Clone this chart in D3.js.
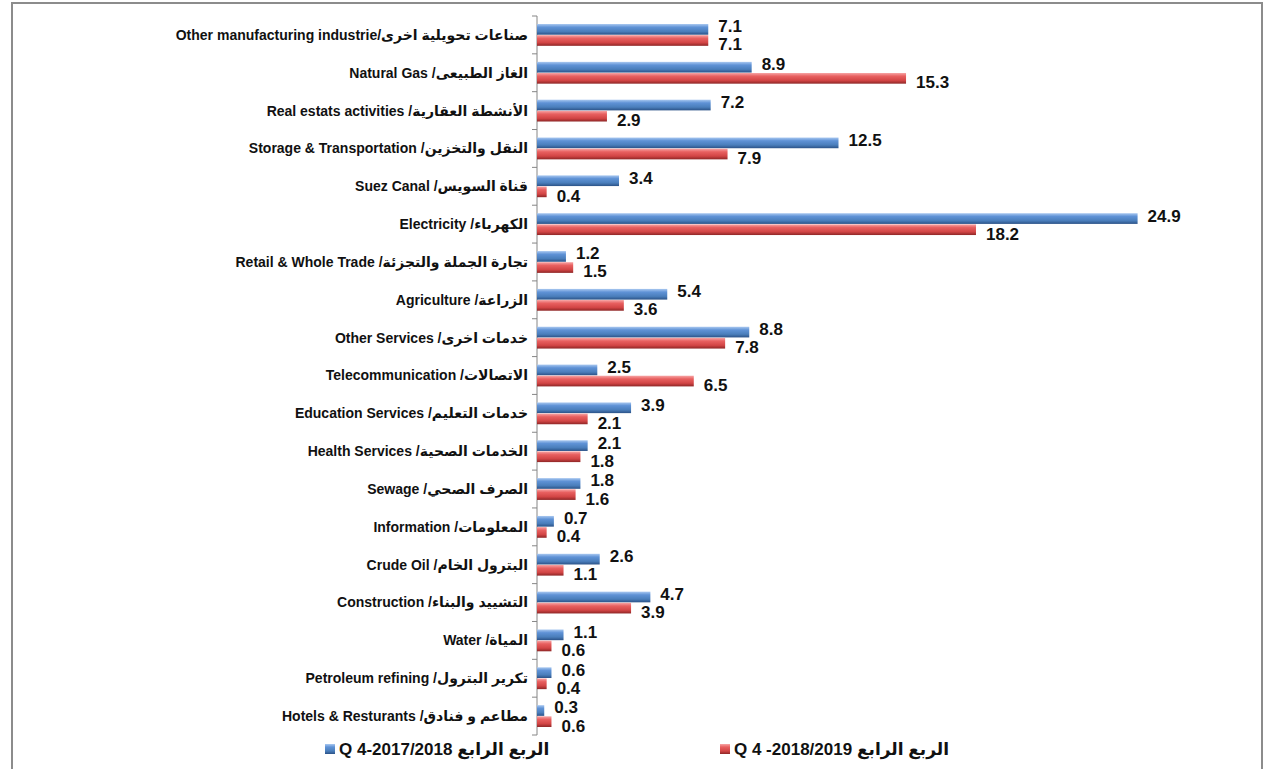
<!DOCTYPE html>
<html>
<head>
<meta charset="utf-8">
<script src="https://cdn.jsdelivr.net/npm/d3@7"></script>
<style>
  body { margin: 0; background: #fff; }
  text { font-family: "Liberation Sans", "DejaVu Sans", sans-serif; font-weight: bold; fill: #111; }
</style>
</head>
<body>
<div id="chart"></div>
<script>
var categories = [
  "صناعات تحويلية اخرى/Other manufacturing industrie",
  "الغاز الطبيعى/ Natural Gas",
  "الأنشطة العقارية/ Real estats activities",
  "النقل والتخزين/ Storage & Transportation",
  "قناة السويس/ Suez Canal",
  "الكهرباء/ Electricity",
  "تجارة الجملة والتجزئة/ Retail & Whole Trade",
  "الزراعة/ Agriculture",
  "خدمات اخرى/ Other Services",
  "الاتصالات/ Telecommunication",
  "خدمات التعليم/ Education Services",
  "الخدمات الصحية/ Health Services",
  "الصرف الصحي/ Sewage",
  "المعلومات/ Information",
  "البترول الخام/ Crude Oil",
  "التشييد والبناء/ Construction",
  "المياة/ Water",
  "تكرير البترول/ Petroleum refining",
  "مطاعم و فنادق/ Hotels & Resturants"
];
var q4_2017_18 = [7.1, 8.9, 7.2, 12.5, 3.4, 24.9, 1.2, 5.4, 8.8, 2.5, 3.9, 2.1, 1.8, 0.7, 2.6, 4.7, 1.1, 0.6, 0.3];
var q4_2018_19 = [7.1, 15.3, 2.9, 7.9, 0.4, 18.2, 1.5, 3.6, 7.8, 6.5, 2.1, 1.8, 1.6, 0.4, 1.1, 3.9, 0.6, 0.4, 0.6];
var seriesNames = ["الربع الرابع Q 4-2017/2018", "الربع الرابع Q 4 -2018/2019"];

var W = 1265, H = 769;
var svg = d3.select("#chart").append("svg").attr("width", W).attr("height", H);

// gradients for the bevelled bars
var defs = svg.append("defs");
function grad(id, stops) {
  var g = defs.append("linearGradient").attr("id", id)
    .attr("x1", 0).attr("y1", 0).attr("x2", 0).attr("y2", 1);
  stops.forEach(function(s) {
    g.append("stop").attr("offset", s[0]).attr("stop-color", s[1]);
  });
}
grad("gBlue", [[0, "#a9c8f0"], [0.3, "#5f92d6"], [0.7, "#4a7ebb"], [1, "#2b5287"]]);
grad("gRed", [[0, "#f7a5a5"], [0.3, "#e86060"], [0.7, "#d24545"], [1, "#8e2626"]]);

// outer frame
svg.append("path")
  .attr("d", "M12," + (H + 2) + "V3H1262V" + (H + 2))
  .attr("fill", "none").attr("stroke", "#8c8c8c").attr("stroke-width", 2);

var x = d3.scaleLinear().domain([0, 25]).range([537, 1140]);
var y = d3.scaleBand().domain(categories).range([16, 735]).paddingInner(0.4).paddingOuter(0.2);
var ys = d3.scaleBand().domain([0, 1]).range([0, y.bandwidth()]).padding(0.04);

// category axis
var axis = svg.append("g").attr("transform", "translate(" + x(0) + ",0)");
axis.append("line").attr("y1", 16).attr("y2", 735).attr("stroke", "#868686");
var bounds = categories.map(function(c) { return y(c) - y.step() * y.paddingInner() / 2; });
bounds.push(735);
axis.selectAll(".tk").data(bounds).enter().append("line")
  .attr("x1", -5).attr("x2", 0).attr("y1", d => d).attr("y2", d => d)
  .attr("stroke", "#868686");

svg.append("g").selectAll("text").data(categories).enter().append("text")
  .attr("x", x(0) - 9)
  .attr("y", d => y(d) + y.bandwidth() / 2)
  .attr("dy", "0.35em")
  .attr("text-anchor", "end")
  .style("font-size", "14px")
  .text(d => "\u202B" + d + "\u202C");

var series = [q4_2017_18, q4_2018_19];
var fills = ["url(#gBlue)", "url(#gRed)"];
var labelShift = [-3, 4];

series.forEach(function(vals, si) {
  var g = svg.append("g");
  g.selectAll("rect").data(vals).enter().append("rect")
    .attr("x", x(0))
    .attr("y", (d, i) => y(categories[i]) + ys(si))
    .attr("width", d => x(d) - x(0))
    .attr("height", ys.bandwidth())
    .attr("fill", fills[si]);
  g.selectAll("text").data(vals).enter().append("text")
    .attr("x", d => x(d) + 10)
    .attr("y", (d, i) => y(categories[i]) + ys(si) + ys.bandwidth() / 2 + labelShift[si])
    .attr("dy", "0.35em")
    .style("font-size", "17px")
    .text(d => d.toFixed(1));
});

// legend
var legendX = [325, 720];
var legend = svg.append("g");
seriesNames.forEach(function(name, i) {
  var lg = legend.append("g").attr("transform", "translate(" + legendX[i] + ",749)");
  lg.append("rect").attr("x", 0).attr("y", -5).attr("width", 10).attr("height", 10)
    .attr("fill", fills[i]);
  lg.append("text").attr("x", 14).attr("dy", "0.35em")
    .style("font-size", "17px")
    .text("\u202B" + name + "\u202C");
});
</script>
</body>
</html>
